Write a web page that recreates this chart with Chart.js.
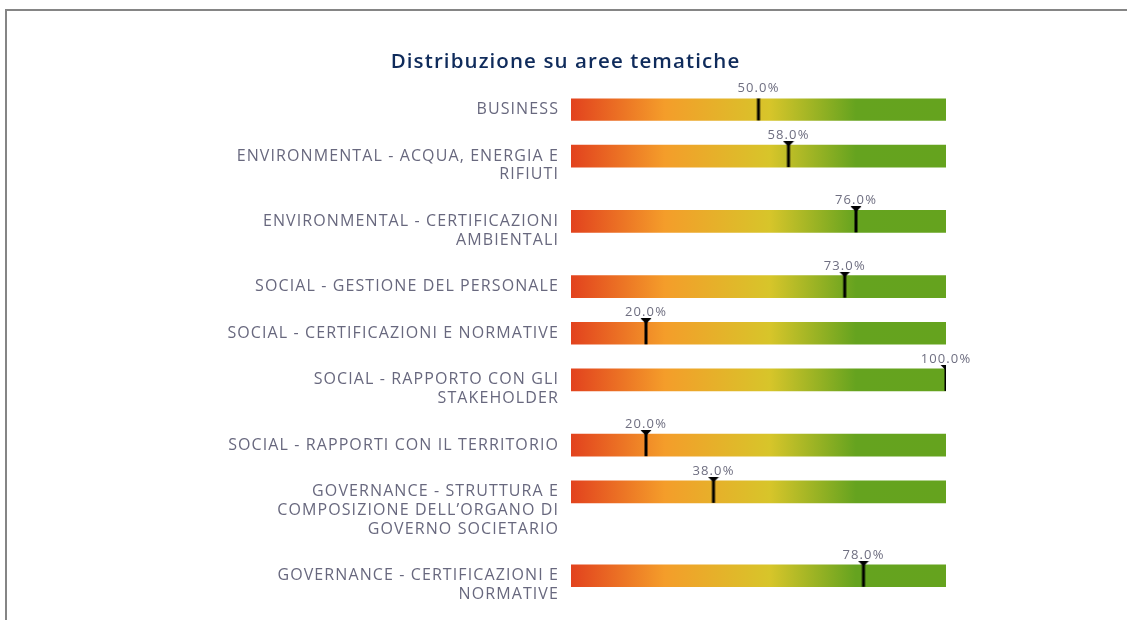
<!DOCTYPE html>
<html>
<head>
<meta charset="utf-8">
<script src="https://cdn.jsdelivr.net/npm/chart.js@4/dist/chart.umd.min.js"></script>
<style>
  html, body { margin: 0; padding: 0; background: #fff; overflow: hidden; width: 1127px; height: 620px; }
  #frame { position: absolute; left: 5px; top: 9px; width: 1300px; height: 800px; border-left: 2px solid #858585; border-top: 2px solid #858585; }
  #wrap { position: absolute; left: 6px; top: 10px; width: 1119px; height: 600px; }
</style>
</head>
<body>
<div id="frame"></div>
<div id="wrap"><canvas id="c"></canvas></div>
<script>
// ---- data ----
const chartTitle = 'Distribuzione su aree tematiche';
const categories = [
  ['BUSINESS'],
  ['ENVIRONMENTAL - ACQUA, ENERGIA E', 'RIFIUTI'],
  ['ENVIRONMENTAL - CERTIFICAZIONI', 'AMBIENTALI'],
  ['SOCIAL - GESTIONE DEL PERSONALE'],
  ['SOCIAL - CERTIFICAZIONI E NORMATIVE'],
  ['SOCIAL - RAPPORTO CON GLI', 'STAKEHOLDER'],
  ['SOCIAL - RAPPORTI CON IL TERRITORIO'],
  ['GOVERNANCE - STRUTTURA E', 'COMPOSIZIONE DELL\u2019ORGANO DI', 'GOVERNO SOCIETARIO'],
  ['GOVERNANCE - CERTIFICAZIONI E', 'NORMATIVE']
];
const scores = [50, 58, 76, 73, 20, 100, 20, 38, 78];
const scaleMin = 0;
const scaleMax = 100;

// ---- layout helpers (row positions in "text line" units) ----
const LINE_PX = 18.6;
const ROW_GAP = 1.5;
const positions = [];
(function () {
  let p = 0;
  categories.forEach((c) => { positions.push(p); p += c.length + ROW_GAP; });
})();
const tickPositions = positions.map((p, i) => p + (categories[i].length - 1) / 2);

// ---- marker image ----
const marker = document.createElement('canvas');
marker.width = 12; marker.height = 30;
(function () {
  const m = marker.getContext('2d');
  m.fillStyle = '#000';
  m.beginPath();
  m.moveTo(0.5, 0); m.lineTo(11.5, 0); m.lineTo(6, 5.5); m.closePath(); m.fill();
  m.fillRect(4.5, 2, 3, 24);
})();

function barGradient(ctx) {
  const area = ctx.chart.chartArea;
  if (!area) return '#f39b2b';
  const g = ctx.chart.ctx.createLinearGradient(area.left, 0, area.right, 0);
  g.addColorStop(0.00, '#e2421e');
  g.addColorStop(0.25, '#f49d2a');
  g.addColorStop(0.53, '#d7c52a');
  g.addColorStop(0.76, '#65a31f');
  g.addColorStop(1.00, '#65a31e');
  return g;
}

const spacing = {
  id: 'spacing',
  beforeDraw(chart) { chart.ctx.letterSpacing = '1.1px'; }
};

const valueLabels = {
  id: 'valueLabels',
  afterDatasetsDraw(chart) {
    const meta = chart.getDatasetMeta(1);
    const ctx = chart.ctx;
    ctx.save();
    ctx.font = '400 13px "Open Sans", sans-serif';
    ctx.fillStyle = '#6e6e80';
    ctx.textAlign = 'center';
    ctx.textBaseline = 'alphabetic';
    meta.data.forEach((el, i) => {
      ctx.fillText(scores[i].toFixed(1) + '%', el.x, el.y - 17);
    });
    ctx.restore();
  }
};

new Chart(document.getElementById('c'), {
  data: {
    datasets: [
      {
        type: 'bar',
        indexAxis: 'y',
        order: 2,
        data: positions.map((p) => ({ x: scaleMax, y: p })),
        backgroundColor: barGradient,
        borderWidth: 0,
        barThickness: 22,
        grouped: false
      },
      {
        type: 'scatter',
        order: 1,
        data: scores.map((s, i) => ({ x: s, y: positions[i] })),
        pointStyle: marker,
        pointRadius: 6,
        pointHoverRadius: 6
      }
    ]
  },
  options: {
    indexAxis: 'y',
    responsive: true,
    maintainAspectRatio: false,
    animation: false,
    events: [],
    layout: { padding: { left: 0, right: 0, top: 0, bottom: 10 } },
    plugins: {
      legend: { display: false },
      tooltip: { enabled: false },
      title: {
        display: true,
        text: chartTitle,
        color: '#0f2b5b',
        font: { family: '"Open Sans", sans-serif', size: 20.5, weight: '600', lineHeight: 1.2 },
        padding: { top: 39.7, bottom: 24.1 }
      }
    },
    scales: {
      x: {
        type: 'linear',
        axis: 'x',
        min: scaleMin,
        max: scaleMax,
        display: false
      },
      y: {
        type: 'linear',
        axis: 'y',
        position: 'left',
        reverse: true,
        offset: false,
        min: -11 / LINE_PX,
        max: 26.3,
        grid: { display: false, drawTicks: false },
        border: { display: false },
        afterBuildTicks(scale) {
          scale.ticks = tickPositions.map((v) => ({ value: v }));
        },
        afterFit(scale) {
          scale.width = 565;
          scale.paddingTop = 0;
          scale.paddingBottom = 0;
        },
        ticks: {
          autoSkip: false,
          padding: 12,
          color: '#68687e',
          font: { family: '"Open Sans", sans-serif', size: 16, weight: '400', lineHeight: LINE_PX + 'px' },
          callback: (v, i) => categories[i]
        }
      },
      yRight: {
        type: 'linear',
        axis: 'y',
        position: 'right',
        min: 0,
        max: 1,
        grid: { display: false, drawTicks: false },
        border: { display: false },
        ticks: { display: false },
        afterFit(scale) {
          scale.width = 179;
          scale.paddingTop = 0;
          scale.paddingBottom = 0;
        }
      }
    }
  },
  plugins: [spacing, valueLabels]
});
</script>
</body>
</html>
